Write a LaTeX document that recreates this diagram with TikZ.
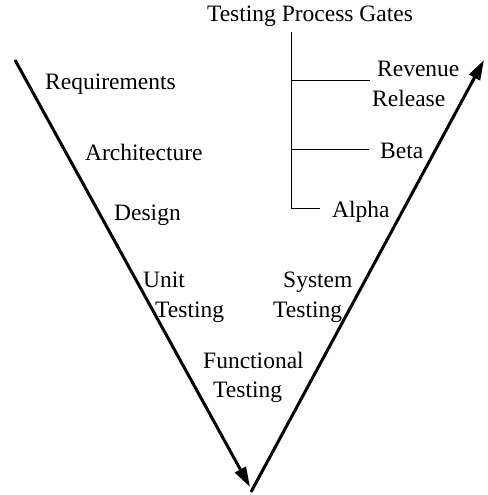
\documentclass[tikz,border=0pt]{standalone}
\usepackage{fontspec}
\setmainfont{Liberation Serif}
\usetikzlibrary{arrows.meta}

\tikzset{
    lbl/.style={inner sep=0pt, anchor=base west, font=\fontsize{23.5}{26}\selectfont},
    vline/.style={line width=3pt, -{Triangle[length=20pt,width=12pt]}},
    gate/.style={line width=0.9pt}
}

\begin{document}
\begin{tikzpicture}[x=1pt,y=-1pt]
            \useasboundingbox (0,0) rectangle (487,495);

            % the V
            \coordinate (ltop) at (15,60);
            \coordinate (lbot) at (250,487);
            \coordinate (rbot) at (251,492);
            \coordinate (rtop) at (484,60);

            \draw[vline] (ltop)--(lbot);
            \draw[vline] (rbot)--(rtop);

            % left side
            \node[lbl] (req) at (45,89) {Requirements};
            \node[lbl] (arch) at (85,160) {Architecture};
            \node[lbl] (des) at (114,220) {Design};
            \node[lbl] (unit) at (143,287) {Unit};
            \node[lbl] (unitt) at (155,317) {Testing};

            % bottom
            \node[lbl] (func) at (203,368) {Functional};
            \node[lbl] (funct) at (213,397) {Testing};

            % right side
            \node[lbl] (sys) at (283,287) {System};
            \node[lbl] (syst) at (273,317) {Testing};

            % gates
            \node[lbl, anchor=base] (gates) at (310,22) {Testing Process Gates};
            \coordinate (gtop) at (291,32);
            \coordinate (grev) at (291,80);
            \coordinate (gbeta) at (291,149);
            \coordinate (galpha) at (291,208);
            \coordinate (erev) at (370,80);
            \coordinate (ebeta) at (369,149);
            \coordinate (ealpha) at (320,208);

            \draw[gate] (gtop)--(galpha);
            \draw[gate] (grev)--(erev);
            \draw[gate] (gbeta)--(ebeta);
            \draw[gate] (galpha)--(ealpha);

            \node[lbl] (rev) at (377,77) {Revenue};
            \node[lbl] (rel) at (372,106) {Release};
            \node[lbl] (beta) at (380,158) {Beta};
            \node[lbl] (alpha) at (332,217) {Alpha};
        \end{tikzpicture}
\end{document}
